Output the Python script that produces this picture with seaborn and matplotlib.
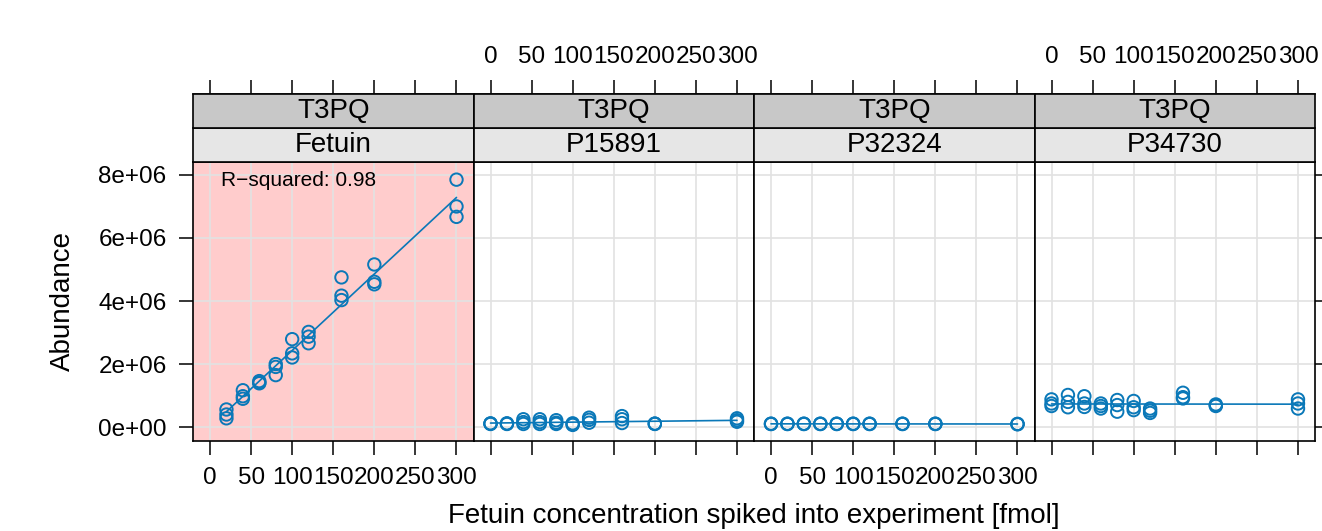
import pandas as pd
import seaborn as sns
import matplotlib.pyplot as plt
from matplotlib.patches import Rectangle
from matplotlib.ticker import FuncFormatter

peptide = "T3PQ"
proteins = ["Fetuin", "P15891", "P32324", "P34730"]
conc = [0, 20, 40, 60, 80, 100, 120, 160, 200, 300]
fetuin_conc = [20, 40, 60, 80, 100, 120, 160, 200, 300]

# abundance in millions, three replicates per spike-in level
fetuin = [[0.56, 0.40, 0.28], [1.17, 0.98, 0.90], [1.46, 1.41, 1.39],
          [2.00, 1.91, 1.65], [2.79, 2.34, 2.21], [3.02, 2.87, 2.66],
          [4.75, 4.17, 4.03], [5.16, 4.61, 4.53], [7.85, 7.00, 6.67]]
p15891 = [[0.12, 0.11, 0.10], [0.12, 0.11, 0.10], [0.25, 0.16, 0.10],
          [0.25, 0.16, 0.10], [0.22, 0.14, 0.10], [0.12, 0.09, 0.07],
          [0.30, 0.23, 0.14], [0.35, 0.25, 0.13], [0.11, 0.11, 0.10],
          [0.28, 0.22, 0.17]]
p32324 = [[0.11, 0.10, 0.10], [0.11, 0.10, 0.10], [0.11, 0.10, 0.10],
          [0.11, 0.10, 0.10], [0.11, 0.10, 0.10], [0.11, 0.10, 0.10],
          [0.11, 0.10, 0.10], [0.11, 0.10, 0.10], [0.11, 0.10, 0.10],
          [0.10, 0.10, 0.09]]
p34730 = [[0.88, 0.75, 0.67], [1.02, 0.80, 0.63], [0.98, 0.75, 0.64],
          [0.75, 0.67, 0.59], [0.86, 0.70, 0.49], [0.83, 0.63, 0.54],
          [0.59, 0.52, 0.45], [1.09, 0.95, 0.91], [0.72, 0.69, 0.67],
          [0.88, 0.75, 0.59]]
r2_label = "R\u2212squared: 0.98"

xticks = [0, 50, 100, 150, 200, 250, 300]
yticks = [0, 2e6, 4e6, 6e6, 8e6]

color = "#0a78b8"
strip_dark = "#c8c8c8"
strip_light = "#e6e6e6"
highlight = "#ffcccc"


def build_df():
    rows = []
    series = {"Fetuin": (fetuin_conc, fetuin), "P15891": (conc, p15891),
              "P32324": (conc, p32324), "P34730": (conc, p34730)}
    for prot in proteins:
        xs, reps = series[prot]
        for x, vals in zip(xs, reps):
            for v in vals:
                rows.append([prot, x, v * 1e6])
    return pd.DataFrame(rows, columns=["protein", "conc", "abundance"])


def plot(df):
    sns.set_theme(style="white")
    plt.rcParams["font.family"] = ["Liberation Sans", "DejaVu Sans"]
    plt.rcParams["text.color"] = "black"
    plt.rcParams["xtick.color"] = "black"
    plt.rcParams["ytick.color"] = "black"
    plt.rcParams["axes.labelcolor"] = "black"

    g = sns.FacetGrid(df, col="protein", col_order=proteins, sharex=True,
                      sharey=True, despine=False, height=4, aspect=0.8)
    g.set_titles(template="")
    fig = g.figure
    fig.set_size_inches(13.22, 5.31)
    fig.subplots_adjust(left=193 / 1322, right=1315 / 1322,
                        top=1 - 162 / 531, bottom=1 - 441 / 531, wspace=0)

    h = 34 / 279
    tick_kw = dict(direction="out", length=10, width=1.1, color="black",
                   labelcolor="black", labelsize=17.5, pad=9)

    for i, prot in enumerate(proteins):
        ax = g.axes_dict[prot]
        sub = df[df.protein == prot]
        if prot == "Fetuin":
            ax.set_facecolor(highlight)
        sns.regplot(data=sub, x="conc", y="abundance", ax=ax, ci=None,
                    color=color,
                    scatter_kws=dict(s=80, facecolors="none", edgecolors=color,
                                     linewidths=1.4, alpha=1, zorder=3),
                    line_kws=dict(lw=1.2, zorder=2))
        ax.set_xlim(-20.7, 320.7)
        ax.set_ylim(-0.44e6, 8.41e6)
        ax.set_xticks(xticks)
        ax.set_yticks(yticks)
        ax.yaxis.set_major_formatter(FuncFormatter(lambda v, p: f"{v:.0e}"))
        ax.set_xlabel("")
        ax.set_ylabel("")
        ax.grid(True, color="#e2e2e2", lw=1.2)
        ax.set_axisbelow(True)
        for s in ax.spines.values():
            s.set_color("black")
            s.set_linewidth(1.2)

        ax.tick_params(axis="both", **tick_kw)
        ax.tick_params(axis="x", bottom=True, top=False,
                       labelbottom=(i % 2 == 0))
        # right-hand labels of the last panel fall outside the picture
        ax.tick_params(axis="y", left=(i == 0), labelleft=(i == 0),
                       right=(i == 3), labelright=False)

        # two-level strip on top of each panel
        for k, (txt, fc) in enumerate([(prot, strip_light), (peptide, strip_dark)]):
            ax.add_patch(Rectangle((0, 1 + k * h), 1, h, transform=ax.transAxes,
                                   facecolor=fc, edgecolor="black", lw=1.2,
                                   clip_on=False, zorder=5))
            ax.text(0.5, 1 + (k + 0.5) * h, txt, transform=ax.transAxes,
                    ha="center", va="center", fontsize=20, zorder=6,
                    clip_on=False)

        top = ax.secondary_xaxis(1 + 2 * h)
        top.set_xticks(xticks)
        top.tick_params(axis="x", **tick_kw)
        top.tick_params(axis="x", labeltop=(i % 2 == 1))
        top.spines["top"].set_linewidth(1.2)

    g.axes_dict["Fetuin"].text(0.1, 0.935, r2_label,
                               transform=g.axes_dict["Fetuin"].transAxes,
                               ha="left", va="center", fontsize=15)

    fig.text(63 / 1322, 1 - 301 / 531, "Abundance", rotation=90,
             ha="center", va="center", fontsize=20)
    fig.text(754 / 1322, 8 / 531,
             "Fetuin concentration spiked into experiment [fmol]",
             ha="center", va="baseline", fontsize=20)

    fig.savefig("out.png", dpi=100)


def main():
    df = build_df()
    plot(df)


if __name__ == "__main__":
    main()
